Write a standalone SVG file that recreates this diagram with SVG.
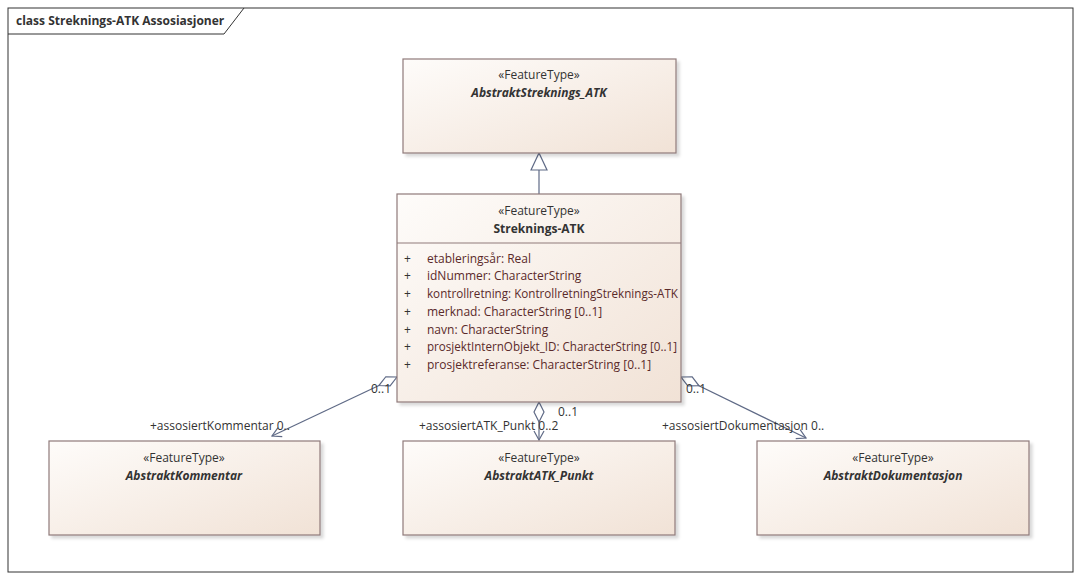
<svg xmlns="http://www.w3.org/2000/svg" width="1082" height="580" viewBox="0 0 1082 580">
<defs>
<linearGradient id="g" x1="0" y1="0" x2="1" y2="1"><stop offset="0" stop-color="#fefcfa"/><stop offset="1" stop-color="#f1e2d6"/></linearGradient>
<marker id="arr" markerWidth="12" markerHeight="12" refX="10" refY="6" orient="auto" markerUnits="userSpaceOnUse"><path d="M1,1 L10,6 L1,11" fill="none" stroke="#5f6a86" stroke-width="1.2"/></marker>
<marker id="dia" markerWidth="24" markerHeight="12" refX="1" refY="6" orient="auto" markerUnits="userSpaceOnUse"><path d="M1,6 L11,1 L21,6 L11,11 Z" fill="#fff" stroke="#5f6a86" stroke-width="1.2"/></marker>
<marker id="tri" markerWidth="20" markerHeight="20" refX="18" refY="10" orient="auto" markerUnits="userSpaceOnUse"><path d="M1,2 L18,10 L1,18 Z" fill="#fff" stroke="#5f6a86" stroke-width="1.2"/></marker>
<filter id="sh"><feDropShadow dx="3" dy="3" stdDeviation="1.5" flood-color="#000" flood-opacity="0.15"/></filter>
</defs>
<style>
text{font-family:"Open Sans","DejaVu Sans",sans-serif;font-size:12px;fill:#333}
.box{fill:url(#g);stroke:#8f7a7a;stroke-width:1.2;filter:url(#sh)}
.st{text-anchor:middle}
.b{font-weight:bold}
.i{font-style:italic;font-weight:bold}
.at{fill:#5a2a2a}
.c{stroke:#5f6a86;stroke-width:1.2;fill:none}
</style>
<rect x="8" y="8" width="1065" height="564" fill="#fff" stroke="#333"/>
<path d="M8,34 H224 L244,8" fill="none" stroke="#333"/>
<text x="16" y="25" class="b" style="font-size:12px">class Streknings-ATK Assosiasjoner</text>

<g id="connectors">
<line class="c" x1="539" y1="194" x2="539" y2="153" marker-end="url(#tri)"/>
<line class="c" x1="397" y1="377" x2="272" y2="436" marker-start="url(#dia)" marker-end="url(#arr)"/>
<line class="c" x1="539" y1="402" x2="539" y2="440" marker-start="url(#dia)" marker-end="url(#arr)"/>
<line class="c" x1="681" y1="377" x2="806" y2="438" marker-start="url(#dia)" marker-end="url(#arr)"/>
<text x="371" y="393">0..1</text>
<text x="150" y="430">+assosiertKommentar 0..</text>
<text x="419" y="430">+assosiertATK_Punkt 0..2</text>
<text x="558" y="416">0..1</text>
<text x="686" y="393">0..1</text>
<text x="662" y="430">+assosiertDokumentasjon 0..</text>
</g>

<g id="AbstraktStreknings_ATK">
<rect class="box" x="403" y="59" width="273" height="94"/>
<text class="st" x="539" y="79">«FeatureType»</text>
<text class="st i" x="539" y="97">AbstraktStreknings_ATK</text>
</g>

<g id="Streknings-ATK">
<rect class="box" x="397" y="194" width="284" height="208"/>
<line x1="397" y1="243" x2="681" y2="243" stroke="#8f7a7a" stroke-width="1.2"/>
<text class="st" x="539" y="215">«FeatureType»</text>
<text class="st b" x="539" y="233">Streknings-ATK</text>
<g class="at">
<text x="404" y="263">+</text><text x="427" y="263" class="at">etableringsår: Real</text>
<text x="404" y="280">+</text><text x="427" y="280" class="at">idNummer: CharacterString</text>
<text x="404" y="298">+</text><text x="427" y="298" class="at" textLength="251" lengthAdjust="spacingAndGlyphs">kontrollretning: KontrollretningStreknings-ATK</text>
<text x="404" y="316">+</text><text x="427" y="316" class="at">merknad: CharacterString [0..1]</text>
<text x="404" y="334">+</text><text x="427" y="334" class="at">navn: CharacterString</text>
<text x="404" y="351">+</text><text x="427" y="351" class="at" textLength="250" lengthAdjust="spacingAndGlyphs">prosjektInternObjekt_ID: CharacterString [0..1]</text>
<text x="404" y="369">+</text><text x="427" y="369" class="at">prosjektreferanse: CharacterString [0..1]</text>
</g>
</g>

<g id="AbstraktKommentar">
<rect class="box" x="49" y="441" width="271" height="94"/>
<text class="st" x="184" y="462">«FeatureType»</text>
<text class="st i" x="184" y="480">AbstraktKommentar</text>
</g>
<g id="AbstraktATK_Punkt">
<rect class="box" x="403" y="441" width="272" height="94"/>
<text class="st" x="539" y="462">«FeatureType»</text>
<text class="st i" x="539" y="480">AbstraktATK_Punkt</text>
</g>
<g id="AbstraktDokumentasjon">
<rect class="box" x="757" y="441" width="272" height="94"/>
<text class="st" x="893" y="462">«FeatureType»</text>
<text class="st i" x="893" y="480">AbstraktDokumentasjon</text>
</g>
</svg>
